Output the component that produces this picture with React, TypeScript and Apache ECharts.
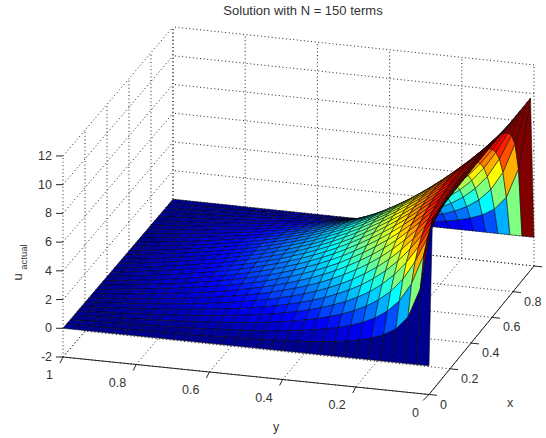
import React, { useEffect, useRef } from "react";
import * as echarts from "echarts";

const titleText = "Solution with N = 150 terms";
const xTicks = [0, 0.2, 0.4, 0.6, 0.8, 1];
const yTicks = [0, 0.2, 0.4, 0.6, 0.8, 1];
const zTicks = [-2, 0, 2, 4, 6, 8, 10, 12];
const meshAxis = [0,0.0333,0.0667,0.1,0.1333,0.1667,0.2,0.2333,0.2667,0.3,0.3333,0.3667,0.4,0.4333,0.4667,0.5,0.5333,0.5667,0.6,0.6333,0.6667,0.7,0.7333,0.7667,0.8,0.8333,0.8667,0.9,0.9333,0.9667,1];

// rows run along x (0..1); one row for each y of the mesh (0..1)
const uActual = [
[0,10,10,10,10,10,10,10,10,10,10,10,10,10,10,10,10,10,10,10,10,10,10,10,10,10,10,10,10,10,0],
[0,4.98,7.02,7.91,8.38,8.67,8.86,8.99,9.09,9.16,9.21,9.25,9.28,9.29,9.30,9.31,9.30,9.29,9.28,9.25,9.21,9.16,9.09,8.99,8.86,8.67,8.38,7.91,7.02,4.98,0],
[0,2.92,4.95,6.18,6.94,7.44,7.79,8.04,8.22,8.35,8.45,8.53,8.58,8.62,8.64,8.65,8.64,8.62,8.58,8.53,8.45,8.35,8.22,8.04,7.79,7.44,6.94,6.18,4.95,2.92,0],
[0,2.01,3.67,4.88,5.75,6.37,6.81,7.14,7.39,7.58,7.72,7.83,7.91,7.96,7.99,8.00,7.99,7.96,7.91,7.83,7.72,7.58,7.39,7.14,6.81,6.37,5.75,4.88,3.67,2.01,0],
[0,1.51,2.85,3.95,4.80,5.45,5.95,6.33,6.63,6.85,7.03,7.16,7.25,7.32,7.36,7.37,7.36,7.32,7.25,7.16,7.03,6.85,6.63,6.33,5.95,5.45,4.80,3.95,2.85,1.51,0],
[0,1.20,2.30,3.26,4.05,4.69,5.20,5.60,5.92,6.18,6.38,6.52,6.63,6.71,6.75,6.77,6.75,6.71,6.63,6.52,6.38,6.18,5.92,5.60,5.20,4.69,4.05,3.26,2.30,1.20,0],
[0,0.98,1.90,2.74,3.45,4.06,4.56,4.96,5.29,5.56,5.77,5.93,6.05,6.13,6.18,6.20,6.18,6.13,6.05,5.93,5.77,5.56,5.29,4.96,4.56,4.06,3.45,2.74,1.90,0.98,0],
[0,0.82,1.61,2.33,2.98,3.53,4.01,4.40,4.73,5.00,5.21,5.38,5.50,5.59,5.64,5.66,5.64,5.59,5.50,5.38,5.21,5.00,4.73,4.40,4.01,3.53,2.98,2.33,1.61,0.82,0],
[0,0.70,1.38,2.01,2.58,3.09,3.53,3.91,4.23,4.49,4.70,4.87,4.99,5.08,5.13,5.15,5.13,5.08,4.99,4.87,4.70,4.49,4.23,3.91,3.53,3.09,2.58,2.01,1.38,0.70,0],
[0,0.61,1.19,1.75,2.26,2.72,3.12,3.48,3.78,4.03,4.24,4.40,4.53,4.61,4.66,4.68,4.66,4.61,4.53,4.40,4.24,4.03,3.78,3.48,3.12,2.72,2.26,1.75,1.19,0.61,0],
[0,0.52,1.04,1.52,1.98,2.39,2.76,3.09,3.37,3.60,3.80,3.96,4.08,4.16,4.21,4.23,4.21,4.16,4.08,3.96,3.80,3.60,3.37,3.09,2.76,2.39,1.98,1.52,1.04,0.52,0],
[0,0.46,0.91,1.34,1.74,2.11,2.45,2.74,3.01,3.23,3.41,3.56,3.68,3.76,3.81,3.82,3.81,3.76,3.68,3.56,3.41,3.23,3.01,2.74,2.45,2.11,1.74,1.34,0.91,0.46,0],
[0,0.40,0.80,1.18,1.54,1.87,2.17,2.45,2.69,2.89,3.06,3.20,3.31,3.39,3.43,3.45,3.43,3.39,3.31,3.20,3.06,2.89,2.69,2.45,2.17,1.87,1.54,1.18,0.80,0.40,0],
[0,0.36,0.70,1.04,1.36,1.66,1.93,2.18,2.40,2.58,2.75,2.87,2.98,3.05,3.09,3.10,3.09,3.05,2.98,2.87,2.75,2.58,2.40,2.18,1.93,1.66,1.36,1.04,0.70,0.36,0],
[0,0.31,0.62,0.92,1.20,1.47,1.72,1.94,2.14,2.31,2.45,2.57,2.67,2.73,2.77,2.78,2.77,2.73,2.67,2.57,2.45,2.31,2.14,1.94,1.72,1.47,1.20,0.92,0.62,0.31,0],
[0,0.28,0.55,0.81,1.07,1.31,1.53,1.72,1.90,2.06,2.19,2.30,2.39,2.45,2.48,2.50,2.48,2.45,2.39,2.30,2.19,2.06,1.90,1.72,1.53,1.31,1.07,0.81,0.55,0.28,0],
[0,0.24,0.49,0.72,0.94,1.16,1.35,1.53,1.69,1.83,1.95,2.05,2.13,2.18,2.22,2.23,2.22,2.18,2.13,2.05,1.95,1.83,1.69,1.53,1.35,1.16,0.94,0.72,0.49,0.24,0],
[0,0.22,0.43,0.64,0.84,1.02,1.20,1.36,1.50,1.63,1.74,1.83,1.90,1.95,1.98,1.99,1.98,1.95,1.90,1.83,1.74,1.63,1.50,1.36,1.20,1.02,0.84,0.64,0.43,0.22,0],
[0,0.19,0.38,0.56,0.74,0.90,1.06,1.20,1.33,1.44,1.54,1.62,1.68,1.73,1.75,1.76,1.75,1.73,1.68,1.62,1.54,1.44,1.33,1.20,1.06,0.90,0.74,0.56,0.38,0.19,0],
[0,0.17,0.33,0.49,0.65,0.79,0.93,1.06,1.17,1.27,1.36,1.43,1.48,1.52,1.55,1.56,1.55,1.52,1.48,1.43,1.36,1.27,1.17,1.06,0.93,0.79,0.65,0.49,0.33,0.17,0],
[0,0.15,0.29,0.43,0.57,0.70,0.82,0.93,1.03,1.11,1.19,1.25,1.30,1.34,1.36,1.37,1.36,1.34,1.30,1.25,1.19,1.11,1.03,0.93,0.82,0.70,0.57,0.43,0.29,0.15,0],
[0,0.13,0.25,0.37,0.49,0.60,0.71,0.81,0.89,0.97,1.04,1.09,1.14,1.17,1.19,1.19,1.19,1.17,1.14,1.09,1.04,0.97,0.89,0.81,0.71,0.60,0.49,0.37,0.25,0.13,0],
[0,0.11,0.22,0.32,0.42,0.52,0.61,0.70,0.77,0.84,0.90,0.94,0.98,1.01,1.02,1.03,1.02,1.01,0.98,0.94,0.90,0.84,0.77,0.70,0.61,0.52,0.42,0.32,0.22,0.11,0],
[0,0.09,0.19,0.27,0.36,0.44,0.52,0.59,0.66,0.71,0.76,0.80,0.84,0.86,0.87,0.88,0.87,0.86,0.84,0.80,0.76,0.71,0.66,0.59,0.52,0.44,0.36,0.27,0.19,0.09,0],
[0,0.08,0.15,0.23,0.30,0.37,0.44,0.50,0.55,0.60,0.64,0.67,0.70,0.72,0.73,0.74,0.73,0.72,0.70,0.67,0.64,0.60,0.55,0.50,0.44,0.37,0.30,0.23,0.15,0.08,0],
[0,0.06,0.13,0.19,0.25,0.30,0.36,0.40,0.45,0.49,0.52,0.55,0.57,0.59,0.60,0.60,0.60,0.59,0.57,0.55,0.52,0.49,0.45,0.40,0.36,0.30,0.25,0.19,0.13,0.06,0],
[0,0.05,0.10,0.15,0.19,0.24,0.28,0.32,0.35,0.38,0.41,0.43,0.45,0.46,0.47,0.47,0.47,0.46,0.45,0.43,0.41,0.38,0.35,0.32,0.28,0.24,0.19,0.15,0.10,0.05,0],
[0,0.04,0.07,0.11,0.14,0.18,0.21,0.24,0.26,0.29,0.30,0.32,0.33,0.34,0.35,0.35,0.35,0.34,0.33,0.32,0.30,0.29,0.26,0.24,0.21,0.18,0.14,0.11,0.07,0.04,0],
[0,0.02,0.05,0.07,0.10,0.12,0.14,0.16,0.17,0.19,0.20,0.21,0.22,0.23,0.23,0.23,0.23,0.23,0.22,0.21,0.20,0.19,0.17,0.16,0.14,0.12,0.10,0.07,0.05,0.02,0],
[0,0.01,0.02,0.04,0.05,0.06,0.07,0.08,0.09,0.09,0.10,0.11,0.11,0.11,0.11,0.12,0.11,0.11,0.11,0.11,0.10,0.09,0.09,0.08,0.07,0.06,0.05,0.04,0.02,0.01,0],
[0,0,0,0,0,0,0,0,0,0,0,0,0,0,0,0,0,0,0,0,0,0,0,0,0,0,0,0,0,0,0],
];

const FONT = "'Liberation Sans', Arial, Helvetica, sans-serif";
const TEXT = "#333";

// view: floor corners on the page and page pixels per z unit
const corner00 = [429, 394.5];
const corner10 = [534, 266];
const corner01 = [63, 357];
const corner11 = [173, 228];
const zScale = 14.36;
const zFloor = -2;

function project(x: number, y: number, z: number): [number, number] {
  const a = (1 - x) * (1 - y), b = x * (1 - y), c = (1 - x) * y, d = x * y;
  return [
    a * corner00[0] + b * corner10[0] + c * corner01[0] + d * corner11[0],
    a * corner00[1] + b * corner10[1] + c * corner01[1] + d * corner11[1] - (z - zFloor) * zScale,
  ];
}

function jet(v: number, vMax: number): string {
  const idx = Math.min(63, Math.floor((Math.max(v, 0) / vMax) * 64));
  const t = (idx + 1) / 64;
  const ch = (k: number) => Math.round(255 * Math.max(0, Math.min(1, 1.5 - Math.abs(4 * t - k))));
  return `rgb(${ch(3)},${ch(2)},${ch(1)})`;
}

type Seg = [number, number, number, number, number, number];

function gridSegments(): Seg[] {
  const xMin = xTicks[0], xMax = xTicks[xTicks.length - 1];
  const yMin = yTicks[0], yMax = yTicks[yTicks.length - 1];
  const zMin = zTicks[0], zMax = zTicks[zTicks.length - 1];
  const out: Seg[] = [];
  xTicks.forEach((x) => {
    out.push([x, yMin, zMin, x, yMax, zMin]);
    out.push([x, yMax, zMin, x, yMax, zMax]);
  });
  yTicks.forEach((y) => {
    out.push([xMin, y, zMin, xMax, y, zMin]);
    out.push([xMax, y, zMin, xMax, y, zMax]);
  });
  zTicks.forEach((z) => {
    out.push([xMin, yMax, z, xMax, yMax, z]);
    out.push([xMax, yMin, z, xMax, yMax, z]);
  });
  return out;
}

export default function App() {
  const ref = useRef<HTMLDivElement>(null);
  useEffect(() => {
    const chart = echarts.init(ref.current!, undefined, { renderer: "svg" });
    const n = meshAxis.length;
    const vMax = Math.max(...uActual.flat());

    const cells: number[][] = [];
    for (let i = n - 2; i >= 0; i--) {
      for (let j = n - 2; j >= 0; j--) cells.push([i, j]);
    }
    const segs = gridSegments();

    const labelText = (api: any, p: [number, number], text: string, align: string, size = 12.5) => {
      const c = api.coord(p);
      return {
        type: "text",
        style: { text, x: c[0], y: c[1], align, verticalAlign: "middle", font: `${size}px ${FONT}`, fill: TEXT },
      };
    };
    const solid = (api: any, a: [number, number], b: [number, number]) => {
      const p = api.coord(a), q = api.coord(b);
      return {
        type: "line",
        shape: { x1: p[0], y1: p[1], x2: q[0], y2: q[1] },
        style: { stroke: "#222", lineWidth: 1, fill: "none" },
      };
    };

    chart.setOption({
      animation: false,
      backgroundColor: "#fff",
      title: {
        text: titleText,
        left: 298,
        top: -1,
        textAlign: "center",
        textStyle: { fontFamily: FONT, fontSize: 13, fontWeight: "normal", color: TEXT },
      },
      grid: { left: 0, right: 0, top: 0, bottom: 0 },
      xAxis: { type: "value", min: 0, max: 546, show: false },
      yAxis: { type: "value", min: 0, max: 438, inverse: true, show: false },
      series: [
        {
          type: "custom",
          coordinateSystem: "cartesian2d",
          silent: true,
          clip: false,
          z: 1,
          data: segs.map((_, k) => [k, 0]),
          renderItem: (params: any, api: any) => {
            const s = segs[params.dataIndex];
            const p = api.coord(project(s[0], s[1], s[2]));
            const q = api.coord(project(s[3], s[4], s[5]));
            return {
              type: "line",
              shape: { x1: p[0], y1: p[1], x2: q[0], y2: q[1] },
              style: { stroke: "#222", lineWidth: 1, lineDash: [1, 2.6], fill: "none" },
            };
          },
        },
        {
          type: "custom",
          coordinateSystem: "cartesian2d",
          silent: true,
          clip: false,
          z: 2,
          data: cells,
          renderItem: (params: any, api: any) => {
            const [i, j] = cells[params.dataIndex];
            const corners = [[i, j], [i + 1, j], [i + 1, j + 1], [i, j + 1]];
            const points = corners.map(([a, b]) =>
              api.coord(project(meshAxis[a], meshAxis[b], uActual[b][a]))
            );
            return {
              type: "polygon",
              shape: { points },
              style: { fill: jet(uActual[j][i], vMax), stroke: "#000", lineWidth: 0.5 },
            };
          },
        },
        {
          type: "custom",
          coordinateSystem: "cartesian2d",
          silent: true,
          clip: false,
          z: 3,
          data: [[0, 0]],
          renderItem: (_: any, api: any) => {
            const children: any[] = [];
            const xLast = xTicks[xTicks.length - 1], yLast = yTicks[yTicks.length - 1];
            children.push(solid(api, project(0, 0, zFloor), project(xLast, 0, zFloor)));
            children.push(solid(api, project(0, 0, zFloor), project(0, yLast, zFloor)));
            xTicks.forEach((x) => {
              const p = project(x, 0, zFloor);
              children.push(solid(api, p, [p[0] + 8, p[1] + 0.8]));
              if (x < xLast) children.push(labelText(api, [p[0] + 11, p[1] + 10], String(x), "left"));
            });
            yTicks.forEach((y) => {
              const p = project(0, y, zFloor);
              children.push(solid(api, p, y === 0 ? [p[0] - 6, p[1] + 6] : [p[0] - 3, p[1] + 6]));
              children.push(labelText(api, [p[0] - 10, p[1] + 18], String(y), "right"));
            });
            zTicks.forEach((z) => {
              const p = project(0, yLast, z);
              children.push(solid(api, p, [p[0] - 7, p[1]]));
              children.push(labelText(api, [p[0] - 11, p[1]], String(z), "right"));
            });
            children.push(labelText(api, [510, 403], "x", "center"));
            children.push(labelText(api, [276, 427], "y", "center"));
            return { type: "group", children };
          },
        },
      ],
      graphic: {
        elements: [
          {
            type: "text",
            x: 17,
            y: 277,
            rotation: Math.PI / 2,
            style: { text: "u", font: `13px ${FONT}`, fill: TEXT, align: "center", verticalAlign: "middle" },
          },
          {
            type: "text",
            x: 23,
            y: 257,
            rotation: Math.PI / 2,
            style: { text: "actual", font: `9.5px ${FONT}`, fill: TEXT, align: "center", verticalAlign: "middle" },
          },
        ],
      },
    });
    return () => chart.dispose();
  }, []);
  return (
    <div
      ref={ref}
      style={{ position: "absolute", left: 0, top: 0, width: 546, height: 438 }}
    />
  );
}
